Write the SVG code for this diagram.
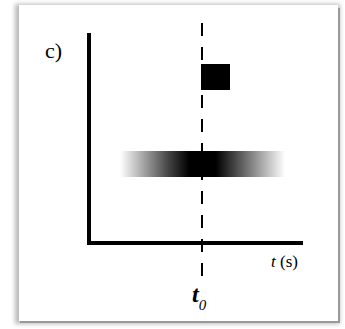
<svg xmlns="http://www.w3.org/2000/svg" width="345" height="329" viewBox="0 0 345 329">
<defs>
<style>
.axis{stroke:#000;stroke-width:4;fill:none}
.dash{stroke:#000;stroke-width:2;stroke-dasharray:13 11;fill:none}
.serif{font-family:"Liberation Serif","Times New Roman",serif;fill:#000}
</style>
<linearGradient id="band" x1="0" y1="0" x2="1" y2="0">
<stop offset="0" stop-color="#000" stop-opacity="0"/>
<stop offset="0.3" stop-color="#000" stop-opacity="0.75"/>
<stop offset="0.42" stop-color="#000" stop-opacity="1"/>
<stop offset="0.58" stop-color="#000" stop-opacity="1"/>
<stop offset="0.75" stop-color="#000" stop-opacity="0.6"/>
<stop offset="1" stop-color="#000" stop-opacity="0"/>
</linearGradient>
<filter id="blur" x="-10%" y="-10%" width="120%" height="120%"><feGaussianBlur stdDeviation="2"/></filter>
</defs>
<rect width="345" height="329" fill="#fff"/>
<g id="frame">
<rect x="15" y="4" width="325" height="320" fill="#bbb" filter="url(#blur)"/>
<rect x="19" y="5" width="319" height="316" fill="#fff"/>
<line x1="339" y1="8" x2="339" y2="323" stroke="#999" stroke-width="2"/>
<line x1="20" y1="322" x2="340" y2="322" stroke="#999" stroke-width="2"/>
</g>
<g id="axes">
<polyline class="axis" points="89,33 89,243 303,243"/>
</g>
<g id="band-node">
<rect x="120" y="151" width="165" height="26" fill="url(#band)"/>
</g>
<g id="square">
<rect x="201" y="64" width="29" height="26" fill="#000"/>
</g>
<g id="connectors">
<line class="dash" x1="202" y1="23" x2="202" y2="282"/>
</g>
<g id="labels">
<text class="serif" x="45" y="58" font-size="22">c)</text>
<text class="serif" x="271" y="267" font-size="17"><tspan font-style="italic">t</tspan> (s)</text>
<text class="serif" x="192" y="302" font-size="24" font-style="italic" font-weight="bold">t<tspan font-size="15" font-weight="normal" dy="8">0</tspan></text>
</g>
</svg>
